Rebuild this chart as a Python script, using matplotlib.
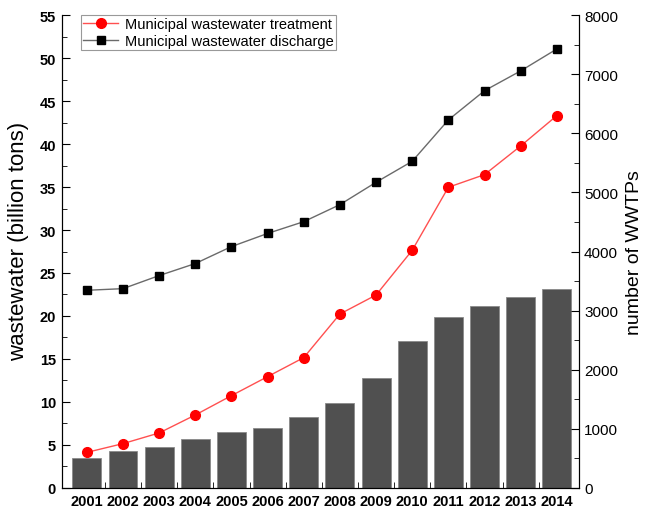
import matplotlib
matplotlib.use('Agg')
from matplotlib import pyplot as plt
from matplotlib.ticker import MultipleLocator, FixedLocator

plt.rcParams['font.family'] = ['Liberation Sans', 'DejaVu Sans']

years = [2001, 2002, 2003, 2004, 2005, 2006, 2007,
         2008, 2009, 2010, 2011, 2012, 2013, 2014]

# wastewater, billion tons
treatment = [4.14, 5.16, 6.4, 8.49, 10.74, 12.95, 15.16,
             20.23, 22.44, 27.64, 34.97, 36.44, 39.77, 43.3]
discharge = [22.99, 23.18, 24.7, 26.1, 28.07, 29.6, 30.97,
             32.95, 35.55, 37.99, 42.8, 46.2, 48.5, 51.05]

# number of treatment plants
wwtps = [500, 624, 692, 822, 945, 1013, 1198,
         1440, 1868, 2486, 2886, 3077, 3235, 3359]

fig = plt.figure(figsize=(6.49, 5.10), dpi=100)
ax = fig.add_axes([0.0948, 0.0412, 0.7966, 0.9274])
ax2 = ax.twinx()

# bars go on the right axis, lines stay on top
ax2.bar(years, wwtps, width=0.8, color='#505050', edgecolor='#8a8a8a',
        linewidth=0.6, zorder=1)
ax.set_zorder(ax2.get_zorder() + 1)
ax.patch.set_visible(False)

ax.plot(years, treatment, color='#ff5050', lw=1, marker='o', ms=7,
        mfc='red', mec='red', label='Municipal wastewater treatment')
ax.plot(years, discharge, color='#6a6a6a', lw=1, marker='s', ms=6,
        mfc='black', mec='black', label='Municipal wastewater discharge')

ax.set_xlim(2000.3, 2014.6)
ax.set_ylim(0, 55)
ax2.set_ylim(0, 8000)

for a in (ax, ax2):
    a.spines['top'].set_visible(False)

ax.yaxis.set_major_locator(MultipleLocator(5))
ax.yaxis.set_minor_locator(MultipleLocator(2.5))
ax2.yaxis.set_major_locator(MultipleLocator(1000))
ax2.yaxis.set_minor_locator(MultipleLocator(500))

ax.set_xticks(years)
ax.set_xticklabels([str(y) for y in years], fontsize=10.5, fontweight='bold')
ax.xaxis.set_minor_locator(FixedLocator([y + 0.5 for y in years[:-1]]))
ax.tick_params(axis='x', which='major', length=0, pad=4)
ax.tick_params(axis='x', which='minor', direction='in', length=4)

ax.tick_params(axis='y', which='major', direction='in', length=6,
               labelsize=10.5, pad=4)
ax.tick_params(axis='y', which='minor', direction='in', length=3.5)
for lbl in ax.get_yticklabels():
    lbl.set_fontweight('bold')

ax2.tick_params(axis='y', which='major', direction='in', length=6,
                labelsize=11, pad=4)
ax2.tick_params(axis='y', which='minor', direction='in', length=3.5)

ax.set_ylabel('wastewater (billion tons)', fontsize=16)
ax.yaxis.set_label_coords(-0.062, 0.524)
ax2.set_ylabel('number of WWTPs', fontsize=14, labelpad=6)

leg = ax.legend(loc='upper left', bbox_to_anchor=(0.038, 1.0), fontsize=10.5,
                frameon=True, fancybox=False, edgecolor='#808080',
                handlelength=2.4, handletextpad=0.45, labelspacing=0.2,
                borderpad=0.15, borderaxespad=0)
leg.get_frame().set_linewidth(0.8)

fig.savefig('out.png', dpi=100)
